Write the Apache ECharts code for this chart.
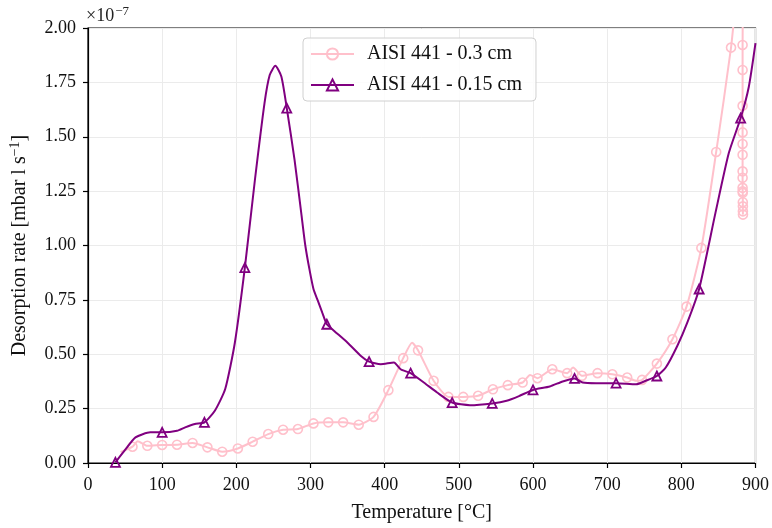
<!DOCTYPE html>
<html>
<head>
<meta charset="utf-8">
<script src="https://cdn.jsdelivr.net/npm/echarts@6/dist/echarts.min.js"></script>
<style>
  html, body { margin: 0; padding: 0; background: #fff; }
  #chart { width: 772px; height: 528px; }
</style>
</head>
<body>
<div id="chart"></div>
<script>
// Desorption rate (units of 1e-7 mbar l/s) versus temperature for two AISI 441 samples.
// *_mark flags the samples that carry a marker symbol.

const seriesNames = ['AISI 441 - 0.3 cm', 'AISI 441 - 0.15 cm'];

// 0.3 cm sample
const thickT = [44, 60, 67, 80, 100, 120, 141, 161, 181, 202, 222, 243, 263, 283, 304, 324, 344, 365, 385, 405, 425, 437, 445, 466, 486, 506, 526, 546, 566, 586, 596, 606, 626, 646, 654, 666, 687, 707, 727, 739, 747, 767, 788, 807, 827, 847, 867, 874, 879, 883,
  882.6, 882.6, 882.6, 882.6, 882.6, 882.6, 882.6, 882.6, 882.6, 882.7, 882.8, 882.9, 883.0, 883.0, 883.1];
const thickR = [0.05, 0.075, 0.10, 0.079, 0.083, 0.084, 0.092, 0.072, 0.052, 0.067, 0.098, 0.133, 0.153, 0.156, 0.182, 0.187, 0.187, 0.176, 0.212, 0.335, 0.482, 0.553, 0.518, 0.378, 0.304, 0.304, 0.309, 0.339, 0.358, 0.370, 0.405, 0.390, 0.431, 0.413, 0.439, 0.401, 0.413, 0.408, 0.393, 0.378, 0.382, 0.457, 0.569, 0.719, 0.989, 1.43, 1.91, 2.15, 2.35, 2.2,
  1.922, 1.807, 1.642, 1.520, 1.467, 1.417, 1.341, 1.311, 1.265, 1.249, 1.242, 1.199, 1.180, 1.157, 1.142];
const thickMark = [0, 1, 0, 1, 1, 1, 1, 1, 1, 1, 1, 1, 1, 1, 1, 1, 1, 1, 1, 1, 1, 0, 1, 1, 1, 1, 1, 1, 1, 1, 0, 1, 1, 1, 0, 1, 1, 1, 1, 0, 1, 1, 1, 1, 1, 1, 1, 0, 0, 0,
  1, 1, 1, 1, 1, 1, 1, 1, 1, 1, 1, 1, 1, 1, 1];

// 0.15 cm sample
const thinT = [37, 50, 64, 84, 100, 120, 131, 144, 157, 171, 185, 198, 211.5, 225, 238, 245, 252.6, 260.7, 268, 278.5, 287.5, 293, 298.6, 304, 310, 316, 322, 332, 350, 368, 379, 394.7, 412.5, 421.5, 435, 452.8, 470.7, 491, 515, 545, 564.5, 582, 600, 622.6, 640, 656, 667, 685, 712, 739, 752, 767, 779, 794.5, 808, 824, 846, 864, 880, 891, 900];
const thinR = [0.003, 0.06, 0.118, 0.141, 0.141, 0.148, 0.164, 0.179, 0.187, 0.24, 0.34, 0.553, 0.898, 1.30, 1.655, 1.784, 1.826, 1.777, 1.632, 1.394, 1.15, 1.0, 0.89, 0.80, 0.745, 0.69, 0.638, 0.607, 0.553, 0.492, 0.466, 0.454, 0.462, 0.431, 0.413, 0.370, 0.324, 0.278, 0.266, 0.274, 0.286, 0.309, 0.336, 0.352, 0.375, 0.389, 0.370, 0.367, 0.367, 0.362, 0.378, 0.400, 0.439, 0.538, 0.645, 0.80, 1.15, 1.425, 1.586, 1.73, 1.93];
const thinMark = [1, 0, 0, 0, 1, 0, 0, 0, 1, 0, 0, 0, 1, 0, 0, 0, 0, 0, 1, 0, 0, 0, 0, 0, 0, 0, 1, 0, 0, 0, 1, 0, 0, 0, 1, 0, 0, 1, 0, 1, 0, 0, 1, 0, 0, 1, 0, 0, 1, 0, 0, 1, 0, 0, 0, 1, 0, 0, 1, 0, 0];

const xTicks = { min: 0, max: 900, step: 100 };
const yTicks = { min: 0, max: 2, step: 0.25 };

const PINK = '#ffc0cb';
const PURPLE = '#800080';
const SERIF = '"Liberation Serif", "DejaVu Serif", serif';

function buildData(ts, rs, marks) {
  return ts.map((t, i) => marks[i]
    ? { value: [t, rs[i]] }
    : { value: [t, rs[i]], symbol: 'none' });
}

const chart = echarts.init(document.getElementById('chart'), null, { renderer: 'canvas' });

chart.setOption({
  animation: false,
  backgroundColor: '#fff',
  grid: {
    left: 85, right: 15, top: 28, bottom: 64,
    show: true, borderColor: '#000', borderWidth: 1.2, backgroundColor: 'transparent'
  },
  graphic: [{
    type: 'text',
    left: 86, top: 5,
    style: {
      text: '{a|×10}{s|−7}',
      rich: {
        a: { fontFamily: SERIF, fontSize: 18, fill: '#222', verticalAlign: 'bottom', lineHeight: 20 },
        s: { fontFamily: SERIF, fontSize: 13, fill: '#222', verticalAlign: 'top', lineHeight: 14, padding: [0, 0, 8, 1] }
      }
    }
  }],
  legend: {
    orient: 'vertical',
    left: 303, top: 38,
    padding: [6, 14, 6, 7],
    itemWidth: 43, itemHeight: 14, itemGap: 11,
    backgroundColor: 'rgba(255,255,255,0.85)',
    borderColor: '#d0d0d0', borderWidth: 1, borderRadius: 4,
    textStyle: { fontFamily: SERIF, fontSize: 20, color: '#111', lineHeight: 20, padding: [0, 0, 0, 8] },
    data: seriesNames
  },
  xAxis: {
    type: 'value',
    min: xTicks.min, max: xTicks.max, interval: xTicks.step,
    name: 'Temperature [°C]',
    nameLocation: 'middle', nameGap: 40,
    nameTextStyle: { fontFamily: SERIF, fontSize: 20, color: '#111' },
    axisLine: { show: true, onZero: false, lineStyle: { color: '#000', width: 1.2 } },
    axisTick: { show: true, length: 5, lineStyle: { color: '#000', width: 1.2 } },
    axisLabel: { fontFamily: SERIF, fontSize: 18, color: '#111', margin: 13 },
    splitLine: { show: true, lineStyle: { color: '#ebebeb', width: 1 } }
  },
  yAxis: {
    type: 'value',
    min: yTicks.min, max: yTicks.max, interval: yTicks.step,
    name: '{a|Desorption rate [mbar l s}{s|−1}{a|]}',
    nameLocation: 'middle', nameGap: 58, nameRotate: 90,
    nameTextStyle: {
      rich: {
        a: { fontFamily: SERIF, fontSize: 20, color: '#111', verticalAlign: 'bottom', lineHeight: 22 },
        s: { fontFamily: SERIF, fontSize: 14, color: '#111', verticalAlign: 'top', lineHeight: 14, padding: [0, 0, 10, 0] }
      }
    },
    axisLine: { show: true, lineStyle: { color: '#000', width: 1.2 } },
    axisTick: { show: true, length: 5, lineStyle: { color: '#000', width: 1.2 } },
    axisLabel: { fontFamily: SERIF, fontSize: 18, color: '#111', margin: 12, formatter: v => v.toFixed(2) },
    splitLine: { show: true, lineStyle: { color: '#ebebeb', width: 1 } }
  },
  series: [
    {
      name: seriesNames[0],
      type: 'line',
      data: buildData(thickT, thickR, thickMark),
      symbol: 'circle', symbolSize: 9, showAllSymbol: true,
      smooth: 0.2,
      clip: true,
      lineStyle: { color: PINK, width: 2 },
      itemStyle: { color: 'rgba(255,255,255,0)', borderColor: PINK, borderWidth: 1.6 },
      emphasis: { disabled: true },
      z: 2
    },
    {
      name: seriesNames[1],
      type: 'line',
      data: buildData(thinT, thinR, thinMark),
      symbol: 'triangle', symbolSize: 9, showAllSymbol: true,
      smooth: 0.2,
      clip: true,
      lineStyle: { color: PURPLE, width: 2 },
      itemStyle: { color: 'rgba(255,255,255,0)', borderColor: PURPLE, borderWidth: 1.8 },
      emphasis: { disabled: true },
      z: 3
    }
  ]
});
</script>
</body>
</html>
